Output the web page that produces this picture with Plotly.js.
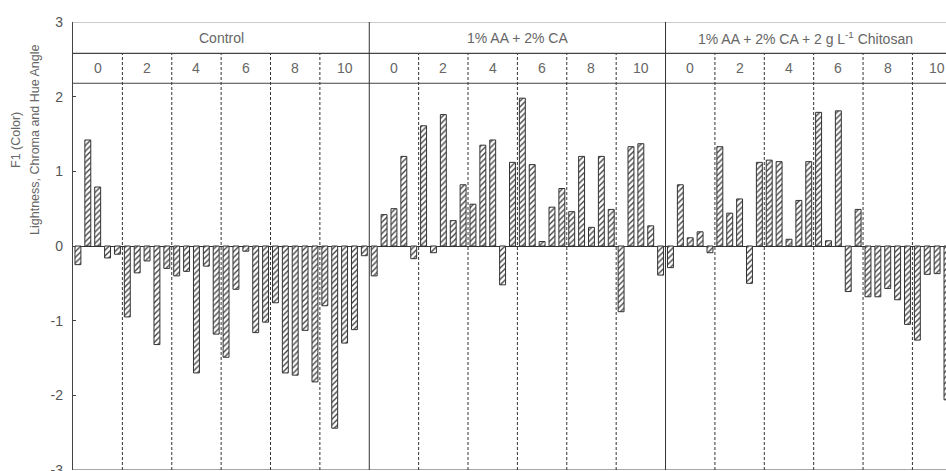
<!DOCTYPE html>
<html>
<head>
<meta charset="utf-8">
<script src="https://cdn.plot.ly/plotly-3.0.1.min.js"></script>
<style>html,body{margin:0;padding:0;background:#fff;}#chart{width:946px;height:471px;}</style>
</head>
<body>
<div id="chart"></div>
<script>
// Treatment groups and storage days (header labels)
const groups = ["Control", "1% AA + 2% CA", "1% AA + 2% CA + 2 g L<sup>-1</sup> Chitosan"];
const days = ["0", "2", "4", "6", "8", "10"];
const barsPerDay = 5;

// F1 (Color) scores, 5 bars per day
const control = [
  -0.25, 1.42, 0.79, -0.16, -0.11,
  -0.95, -0.36, -0.20, -1.32, -0.30,
  -0.40, -0.34, -1.70, -0.27, -1.18,
  -1.49, -0.58, -0.07, -1.16, -1.02,
  -0.76, -1.70, -1.73, -1.13, -1.82,
  -0.80, -2.44, -1.30, -1.12, -0.13
];
const aaCa = [
  -0.40, 0.42, 0.50, 1.20, -0.17,
  1.61, -0.09, 1.76, 0.34, 0.82,
  0.56, 1.35, 1.42, -0.52, 1.12,
  1.98, 1.09, 0.06, 0.52, 0.77,
  0.46, 1.20, 0.25, 1.20, 0.49,
  -0.88, 1.33, 1.37, 0.27, -0.39
];
const aaCaChitosan = [
  -0.29, 0.82, 0.11, 0.19, -0.09,
  1.33, 0.44, 0.63, -0.50, 1.12,
  1.15, 1.13, 0.09, 0.61, 1.13,
  1.79, 0.07, 1.81, -0.61, 0.49,
  -0.68, -0.68, -0.57, -0.72, -1.05,
  -1.26, -0.38, -0.37, -2.06
];
const yTicks = [-3, -2, -1, 0, 1, 2, 3];

const series = [control, aaCa, aaCaChitosan];
const groupSize = days.length * barsPerDay;
const xs = [], ys = [];
series.forEach((vals, g) => {
  vals.forEach((v, i) => { xs.push(g * groupSize + i + 0.5); ys.push(v); });
});

const xMax = 88.4;
const yTop = 3, yBottom = -3, yRow1 = 2.58, yRow2 = 2.18;
const lineCol = '#333';
const txtCol = '#666';
const font = 'Liberation Sans, Arial, sans-serif';

const shapes = [];
// header horizontal lines
[yRow1, yRow2].forEach(y => shapes.push({type:'line', xref:'x', yref:'y', x0:0, x1:xMax, y0:y, y1:y, line:{color:'#444', width:1.2}}));
// top and bottom borders
shapes.push({type:'line', xref:'x', yref:'y', x0:0, x1:xMax, y0:yTop, y1:yTop, line:{color:'#999', width:1}});
shapes.push({type:'line', xref:'x', yref:'y', x0:0, x1:xMax, y0:yBottom, y1:yBottom, line:{color:'#555', width:1.2}});
// group separators and day separators
const annotations = [];
groups.forEach((g, gi) => {
  const start = gi * groupSize;
  if (gi > 0) shapes.push({type:'line', xref:'x', yref:'y', x0:start, x1:start, y0:yBottom, y1:yTop, line:{color:lineCol, width:1}});
  const end = Math.min(start + groupSize, xMax);
  annotations.push({xref:'x', yref:'y', x:(start + end) / 2, y:(yTop + yRow1) / 2, text:g, showarrow:false,
    font:{family:font, size:14, color:txtCol}});
  days.forEach((d, di) => {
    const ds = start + di * barsPerDay;
    if (di > 0) shapes.push({type:'line', xref:'x', yref:'y', x0:ds, x1:ds, y0:yBottom, y1:yRow1, line:{color:lineCol, width:1, dash:'3px,2px'}});
    annotations.push({xref:'x', yref:'y', x:ds + barsPerDay / 2, y:(yRow1 + yRow2) / 2 + 0.01, text:d, showarrow:false,
      font:{family:font, size:14, color:txtCol}});
  });
});
// y-axis title (two lines)
annotations.push({xref:'paper', yref:'y', x:0, xshift:-57, xanchor:'center', yanchor:'middle', y:1.42, text:'F1 (Color)', textangle:-90, showarrow:false,
  font:{family:font, size:12.5, color:txtCol}});
annotations.push({xref:'paper', yref:'y', x:0, xshift:-38, xanchor:'center', yanchor:'middle', y:1.42, text:'Lightness, Chroma and Hue Angle', textangle:-90, showarrow:false,
  font:{family:font, size:12.5, color:txtCol}});

const trace = {
  type:'bar', x:xs, y:ys, width:0.6,
  marker:{color:'white', line:{color:'#333', width:1},
    pattern:{shape:'/', size:4, solidity:0.35, fgcolor:'#444', bgcolor:'#fff'}},
  hoverinfo:'y'
};

const layout = {
  width:946, height:471,
  margin:{l:73, r:0, t:22, b:1, pad:0},
  paper_bgcolor:'#fff', plot_bgcolor:'#fff',
  showlegend:false,
  bargap:0,
  xaxis:{range:[0, xMax], showgrid:false, zeroline:false, showticklabels:false, ticks:'', showline:false, fixedrange:true},
  yaxis:{range:[yBottom, yTop], tickvals:yTicks, ticktext:yTicks.map(String), showgrid:false,
    zeroline:true, zerolinecolor:'#333', zerolinewidth:1,
    showline:true, linecolor:'#444', linewidth:1.2,
    ticks:'inside', ticklen:3, tickcolor:'#444', ticklabeloverflow:'allow',
    tickfont:{family:font, size:14, color:'#555'}, ticklabelstandoff:6, fixedrange:true},
  shapes:shapes, annotations:annotations
};

Plotly.newPlot('chart', [trace], layout, {displayModeBar:false, staticPlot:true});
</script>
</body>
</html>
